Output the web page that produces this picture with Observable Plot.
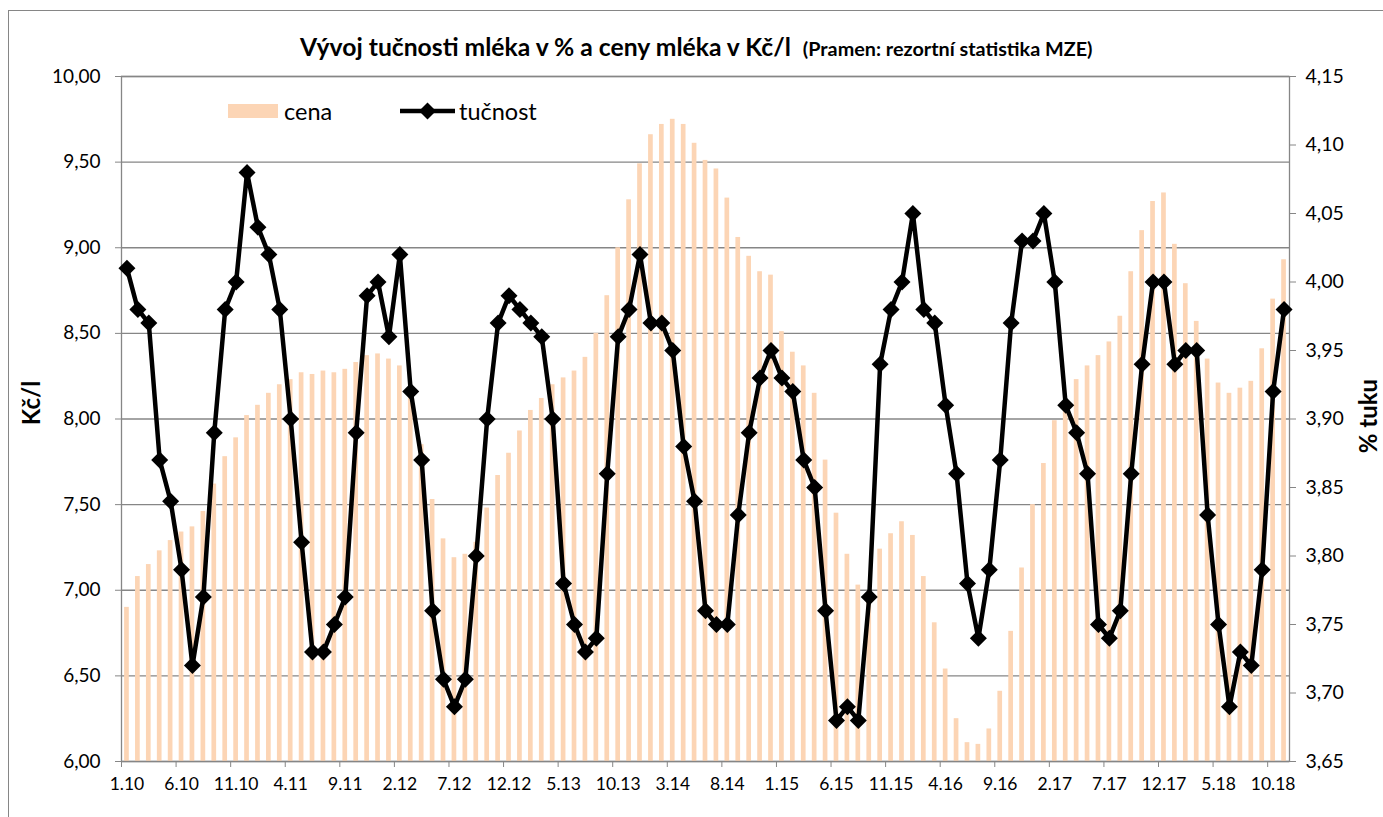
<!DOCTYPE html>
<html><head><meta charset="utf-8">
<script src="https://cdn.jsdelivr.net/npm/d3@7"></script>
<script src="https://cdn.jsdelivr.net/npm/@observablehq/plot@0.6"></script>
<style>
body{margin:0;background:#fff;font-family:Lato,"DejaVu Sans",sans-serif;}
#wrap{position:relative;width:1383px;height:817px;overflow:hidden;background:#fff;}
.layer{position:absolute;left:0;top:0;}
#border{position:absolute;left:8px;top:10px;width:1400px;height:830px;border:1px solid #868686;box-sizing:border-box;}
#title{position:absolute;left:300px;top:30px;white-space:nowrap;font-weight:bold;color:#000;line-height:34px;}
#title .main{font-size:24.7px;}
#title .sub{font-size:19.8px;margin-left:12px;}
.ytitle{position:absolute;font-weight:bold;font-size:24px;white-space:nowrap;transform-origin:center center;line-height:24px;}
.leg{position:absolute;font-size:23.5px;white-space:nowrap;line-height:28px;}
</style></head><body>
<div id="wrap">
  <div id="border"></div>
  <div id="title"><span class="main">Vývoj tučnosti mléka v % a ceny mléka v Kč/l</span><span class="sub">(Pramen: rezortní statistika MZE)</span></div>
  <div id="base" class="layer"></div>
  <div id="over" class="layer"></div>
  <div class="ytitle" id="yl">Kč/l</div>
  <div class="ytitle" id="yr">% tuku</div>
  <div id="legend"></div>
</div>
<script>
const months = [
"1.10","2.10","3.10","4.10","5.10","6.10","7.10","8.10","9.10","10.10","11.10","12.10",
"1.11","2.11","3.11","4.11","5.11","6.11","7.11","8.11","9.11","10.11","11.11","12.11",
"1.12","2.12","3.12","4.12","5.12","6.12","7.12","8.12","9.12","10.12","11.12","12.12",
"1.13","2.13","3.13","4.13","5.13","6.13","7.13","8.13","9.13","10.13","11.13","12.13",
"1.14","2.14","3.14","4.14","5.14","6.14","7.14","8.14","9.14","10.14","11.14","12.14",
"1.15","2.15","3.15","4.15","5.15","6.15","7.15","8.15","9.15","10.15","11.15","12.15",
"1.16","2.16","3.16","4.16","5.16","6.16","7.16","8.16","9.16","10.16","11.16","12.16",
"1.17","2.17","3.17","4.17","5.17","6.17","7.17","8.17","9.17","10.17","11.17","12.17",
"1.18","2.18","3.18","4.18","5.18","6.18","7.18","8.18","9.18","10.18","11.18"];

const tickLabels = ["1.10","6.10","11.10","4.11","9.11","2.12","7.12","12.12","5.13","10.13","3.14",
"8.14","1.15","6.15","11.15","4.16","9.16","2.17","7.17","12.17","5.18","10.18"];

// cena mléka (Kč/l)
const cena = [
6.90,7.08,7.15,7.23,7.29,7.34,7.37,7.46,7.62,7.78,7.89,8.02,
8.08,8.15,8.20,8.23,8.27,8.26,8.28,8.27,8.29,8.33,8.37,8.38,
8.35,8.31,8.15,7.85,7.53,7.30,7.19,7.21,7.28,7.48,7.67,7.80,
7.93,8.05,8.12,8.20,8.24,8.28,8.36,8.50,8.72,9.00,9.28,9.49,
9.66,9.72,9.75,9.72,9.61,9.51,9.46,9.29,9.06,8.95,8.86,8.84,
8.51,8.39,8.31,8.15,7.76,7.45,7.21,7.03,6.98,7.24,7.33,7.40,
7.32,7.08,6.81,6.54,6.25,6.11,6.10,6.19,6.41,6.76,7.13,7.50,
7.74,7.99,8.10,8.23,8.31,8.37,8.45,8.60,8.86,9.10,9.27,9.32,
9.02,8.79,8.57,8.35,8.21,8.15,8.18,8.22,8.41,8.70,8.93];

// tučnost (% tuku)
const tucnost = [
4.01,3.98,3.97,3.87,3.84,3.79,3.72,3.77,3.89,3.98,4.00,4.08,
4.04,4.02,3.98,3.90,3.81,3.73,3.73,3.75,3.77,3.89,3.99,4.00,
3.96,4.02,3.92,3.87,3.76,3.71,3.69,3.71,3.80,3.90,3.97,3.99,
3.98,3.97,3.96,3.90,3.78,3.75,3.73,3.74,3.86,3.96,3.98,4.02,
3.97,3.97,3.95,3.88,3.84,3.76,3.75,3.75,3.83,3.89,3.93,3.95,
3.93,3.92,3.87,3.85,3.76,3.68,3.69,3.68,3.77,3.94,3.98,4.00,
4.05,3.98,3.97,3.91,3.86,3.78,3.74,3.79,3.87,3.97,4.03,4.03,
4.05,4.00,3.91,3.89,3.86,3.75,3.74,3.76,3.86,3.94,4.00,4.00,
3.94,3.95,3.95,3.83,3.75,3.69,3.73,3.72,3.79,3.92,3.98];

const cenaTicks = [6.0,6.5,7.0,7.5,8.0,8.5,9.0,9.5,10.0];
const tukTicks = [3.65,3.70,3.75,3.80,3.85,3.90,3.95,4.00,4.05,4.10,4.15];

const rows = months.map((m, i) => ({month: m, cena: cena[i], tuk: tucnost[i]}));

const W = 1383, H = 817;
const M = {marginLeft: 121, marginRight: 94, marginTop: 76, marginBottom: 56};
const step = (W - M.marginLeft - M.marginRight) / months.length;
const fmt = d => d.toFixed(2).replace(".", ",");
const GRAY = "#868686";
const FONT = "Lato, 'DejaVu Sans', sans-serif";

const diamond = {
  draw(ctx, size) {
    const h = Math.sqrt(size / Math.PI);
    ctx.moveTo(0, -h); ctx.lineTo(h, 0); ctx.lineTo(0, h); ctx.lineTo(-h, 0); ctx.closePath();
  }
};

const base = Plot.plot({
  width: W, height: H, ...M,
  style: {background: "transparent", fontFamily: FONT, fontSize: "19px", color: "#000", overflow: "visible"},
  x: {type: "band", domain: months, paddingInner: 0.57, paddingOuter: 0.285, axis: null},
  y: {domain: [6, 10], axis: null},
  marks: [
    Plot.gridY(cenaTicks, {stroke: GRAY, strokeOpacity: 1, strokeWidth: 1.3}),
    Plot.barY(rows, {x: "month", y: "cena", fill: "#FCD5B5", clip: true}),
    Plot.frame({stroke: GRAY, strokeWidth: 1.3}),
    Plot.axisY(cenaTicks, {anchor: "left", tickFormat: fmt, tickSize: 6, tickPadding: 15, stroke: GRAY, fill: "#000", fontSize: 19, label: null}),
    Plot.axisX(tickLabels, {anchor: "bottom", tickSize: 0, tickPadding: 16, fill: "#000", fontSize: 17.5, label: null}),
    Plot.axisX(tickLabels, {anchor: "bottom", tickSize: 6, tickFormat: () => "", dx: -step / 2, stroke: GRAY, label: null})
  ]
});
document.getElementById("base").appendChild(base);

const over = Plot.plot({
  width: W, height: H, ...M,
  style: {background: "transparent", fontFamily: FONT, fontSize: "19px", color: "#000", overflow: "visible"},
  x: {type: "point", domain: months, padding: 0.5, axis: null},
  y: {domain: [3.65, 4.15], axis: null},
  marks: [
    Plot.line(rows, {x: "month", y: "tuk", stroke: "#000", strokeWidth: 4.5, strokeLinejoin: "round"}),
    Plot.dot(rows, {x: "month", y: "tuk", symbol: diamond, r: 8.5, fill: "#000", stroke: "none"}),
    Plot.axisY(tukTicks, {anchor: "right", tickFormat: fmt, tickSize: 6, tickPadding: 10, stroke: GRAY, fill: "#000", fontSize: 19.5, label: null})
  ]
});
document.getElementById("over").appendChild(over);

// axis titles
const yl = document.getElementById("yl");
yl.style.left = (31 - yl.offsetWidth / 2) + "px";
yl.style.top = (403 - yl.offsetHeight / 2) + "px";
yl.style.transform = "rotate(-90deg)";
const yr = document.getElementById("yr");
yr.style.left = (1368 - yr.offsetWidth / 2) + "px";
yr.style.top = (416 - yr.offsetHeight / 2) + "px";
yr.style.transform = "rotate(-90deg)";

// legend (HTML)
const lg = document.getElementById("legend");
lg.innerHTML = `
<div style="position:absolute;left:228px;top:104px;width:50px;height:14px;background:#FCD5B5"></div>
<div class="leg" style="left:284px;top:97px">cena</div>
<svg style="position:absolute;left:395px;top:100px" width="66" height="22">
  <line x1="5" y1="11" x2="60" y2="11" stroke="#000" stroke-width="4.5"/>
  <path d="M32.5,2.5L41,11L32.5,19.5L24,11Z" fill="#000"/>
</svg>
<div class="leg" style="left:459px;top:97px">tučnost</div>`;
</script>
</body></html>
